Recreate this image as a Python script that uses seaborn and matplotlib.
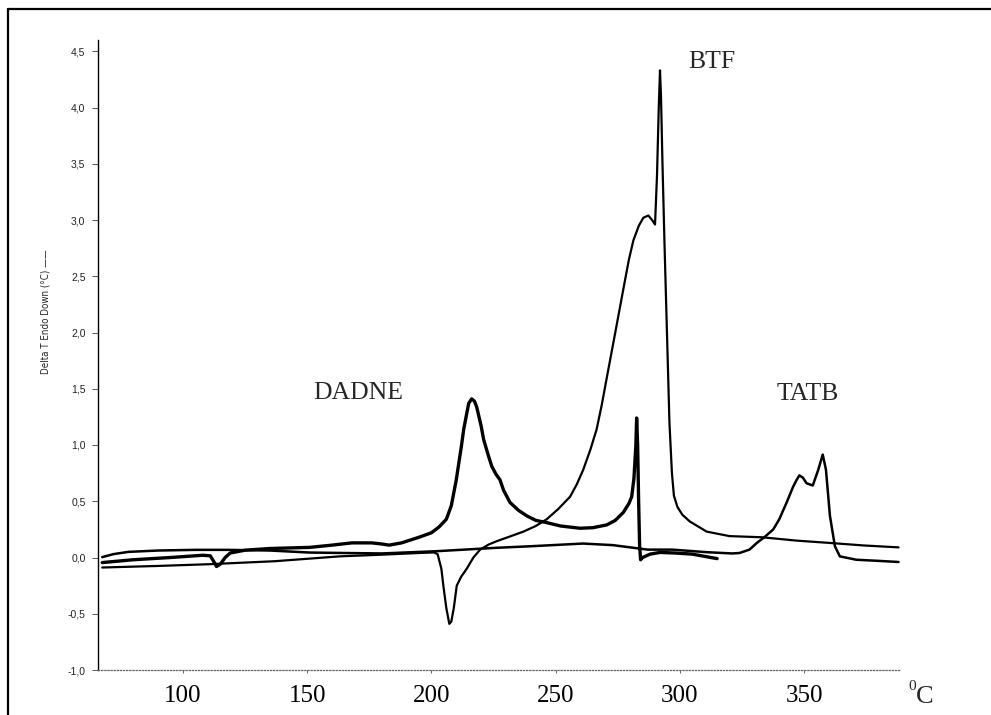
import matplotlib
matplotlib.use("Agg")
import matplotlib.pyplot as plt
from matplotlib.lines import Line2D
from matplotlib.ticker import FuncFormatter
import seaborn as sns
import pandas as pd

# DSC traces: temperature (°C) and Delta T (°C), endo down
dadne_t = [67.5, 80, 95, 108, 111, 112.5, 113.5, 115, 117, 119, 125, 135, 151, 160, 168,
           176, 180, 183, 188, 195, 200, 203, 206, 208, 210, 212, 213, 215, 216.2, 217.3,
           218.2, 220, 221, 223, 224.3, 226, 227.6, 229, 231.6, 235, 238.4, 242, 246.4,
           252, 259.8, 265, 270.6, 274, 277.2, 279.5, 280.6, 281.5, 282.3, 282.6, 283.0,
           283.4, 283.8, 284.2, 285, 288, 292, 298, 305, 315]
dadne_v = [-0.045, -0.02, 0.0, 0.02, 0.015, -0.04, -0.08, -0.06, 0.0, 0.04, 0.065, 0.08,
           0.09, 0.11, 0.13, 0.13, 0.12, 0.11, 0.13, 0.18, 0.22, 0.27, 0.34, 0.46, 0.69,
           0.98, 1.14, 1.37, 1.41, 1.39, 1.34, 1.17, 1.05, 0.9, 0.81, 0.74, 0.69, 0.6, 0.49,
           0.42, 0.37, 0.33, 0.31, 0.28, 0.26, 0.265, 0.29, 0.33, 0.40, 0.48, 0.54, 0.7,
           1.0, 1.24, 1.0, 0.5, 0.1, -0.02, 0.0, 0.03, 0.045, 0.04, 0.03, -0.01]

btf_t = [67.5, 90, 110, 137, 163, 180, 195, 201, 202.5, 204, 204.8, 206, 207.2, 208, 209,
         210.2, 212, 214.2, 216.9, 219.6, 223, 226.3, 232, 237, 242, 246.4, 251, 255.8,
         258.5, 261.1, 264, 266.5, 268.5, 270.6, 274, 277.2, 279.5, 281.3, 283.5, 285.3,
         287.3, 288.8, 290, 290.8, 291.5, 292, 292.4, 293.0, 293.8, 294.8, 295.8, 296.8,
         297.6, 299, 301, 304, 310.8, 320, 333, 347, 360, 374, 388]
btf_v = [-0.089, -0.075, -0.06, -0.033, 0.01, 0.025, 0.04, 0.045, 0.03, -0.1, -0.25, -0.45,
         -0.59, -0.57, -0.45, -0.25, -0.17, -0.1, 0.0, 0.07, 0.115, 0.145, 0.19, 0.23, 0.28,
         0.34, 0.43, 0.54, 0.65, 0.78, 0.96, 1.14, 1.35, 1.6, 2.0, 2.38, 2.65, 2.82, 2.95,
         3.02, 3.04, 3.0, 2.96, 3.4, 4.0, 4.33, 4.1, 3.5, 2.8, 2.0, 1.2, 0.75, 0.55, 0.45,
         0.38, 0.32, 0.23, 0.19, 0.18, 0.15, 0.13, 0.107, 0.09]

tatb_t = [67.5, 72, 78, 90, 105, 118, 135, 151, 165, 180, 202, 226, 240, 261, 273, 287,
          297, 311, 321, 324, 328, 331, 334, 337.6, 340, 343, 345.6, 347, 348.1, 349.5,
          351, 353.5, 355.7, 357.5, 358.8, 360.4, 362.4, 364.4, 371, 380, 388]
tatb_v = [0.003, 0.03, 0.05, 0.062, 0.068, 0.068, 0.062, 0.044, 0.04, 0.036, 0.056, 0.086,
          0.1, 0.124, 0.11, 0.07, 0.07, 0.047, 0.036, 0.04, 0.07, 0.13, 0.18, 0.25, 0.34,
          0.49, 0.63, 0.69, 0.73, 0.71, 0.66, 0.64, 0.78, 0.915, 0.78, 0.37, 0.1, 0.01,
          -0.02, -0.03, -0.04]

y_ticks = [-1.0, -0.5, 0.0, 0.5, 1.0, 1.5, 2.0, 2.5, 3.0, 3.5, 4.0, 4.5]
x_ticks = [100, 150, 200, 250, 300, 350]

sns.set_theme(style="white")
plt.rcParams["font.family"] = ["Liberation Sans", "DejaVu Sans"]

frames = []
for name, t, v in [("DADNE", dadne_t, dadne_v), ("BTF", btf_t, btf_v), ("TATB", tatb_t, tatb_v)]:
    frames.append(pd.DataFrame({"T": t, "dT": v, "sample": name}))
df = pd.concat(frames, ignore_index=True)

fig = plt.figure(figsize=(9.91, 7.15), dpi=100)
W, H = 991, 715
ax = fig.add_axes([98 / W, 45 / H, 802 / W, 630 / H])

widths = {"DADNE": 2.4, "BTF": 1.6, "TATB": 1.8}
for name in ["TATB", "BTF", "DADNE"]:
    sns.lineplot(data=df[df["sample"] == name], x="T", y="dT", ax=ax, color="black",
                 lw=widths[name], sort=False, estimator=None, legend=False)

ax.set_xlim(65.8, 388.6)
ax.set_ylim(-1.0, 4.6)
ax.set_xlabel("")
ax.set_ylabel("")

for s in ["top", "right"]:
    ax.spines[s].set_visible(False)
ax.spines["left"].set_color("black")
ax.spines["left"].set_linewidth(1.0)
ax.spines["bottom"].set_color("#666666")
ax.spines["bottom"].set_linewidth(0.9)
ax.spines["bottom"].set_linestyle((0, (1, 1.5)))

ax.set_yticks(y_ticks)
ax.yaxis.set_major_formatter(FuncFormatter(lambda v, p: f"{v:.1f}".replace(".", ",")))
ax.tick_params(axis="y", direction="out", length=4, width=0.7, color="#555555",
               labelsize=7.5, labelcolor="#222222", pad=5, left=True)

ax.set_xticks(x_ticks)
ax.set_xticklabels([str(t) for t in x_ticks], family=["Liberation Serif", "DejaVu Serif"],
                   fontsize=18, color="black")
ax.tick_params(axis="x", direction="out", length=2, width=0.7, color="#666666",
               pad=9, bottom=True)

serif = ["Liberation Serif", "DejaVu Serif"]
ax.text(312.9, 4.40, "BTF", family=serif, fontsize=18.5, ha="center", va="center")
ax.text(170.5, 1.465, "DADNE", family=serif, fontsize=18.5, ha="center", va="center")
ax.text(351.6, 1.45, "TATB", family=serif, fontsize=18.5, ha="center", va="center")

# axis unit at the end of the temperature scale
fig.text(925 / W, 1 - 697 / H, "C", family=serif, fontsize=19, ha="center", va="center")
fig.text(912 / W, 1 - 686 / H, "0", family=serif, fontsize=11, ha="center", va="center")

fig.text(45 / W, 1 - 312 / H, "Delta T Endo Down (°C) \u2014\u2014", rotation=90,
         family=["Liberation Sans Narrow", "DejaVu Sans"], fontstretch="condensed",
         fontsize=7, ha="center", va="center", color="#222222")

# page frame
fig.add_artist(Line2D([8 / W, 8 / W], [0, 1 - 9 / H], transform=fig.transFigure,
                      color="black", lw=1.6))
fig.add_artist(Line2D([8 / W, 1], [1 - 9 / H, 1 - 9 / H], transform=fig.transFigure,
                      color="black", lw=1.6))

fig.savefig("out.png", dpi=100, facecolor="white")
